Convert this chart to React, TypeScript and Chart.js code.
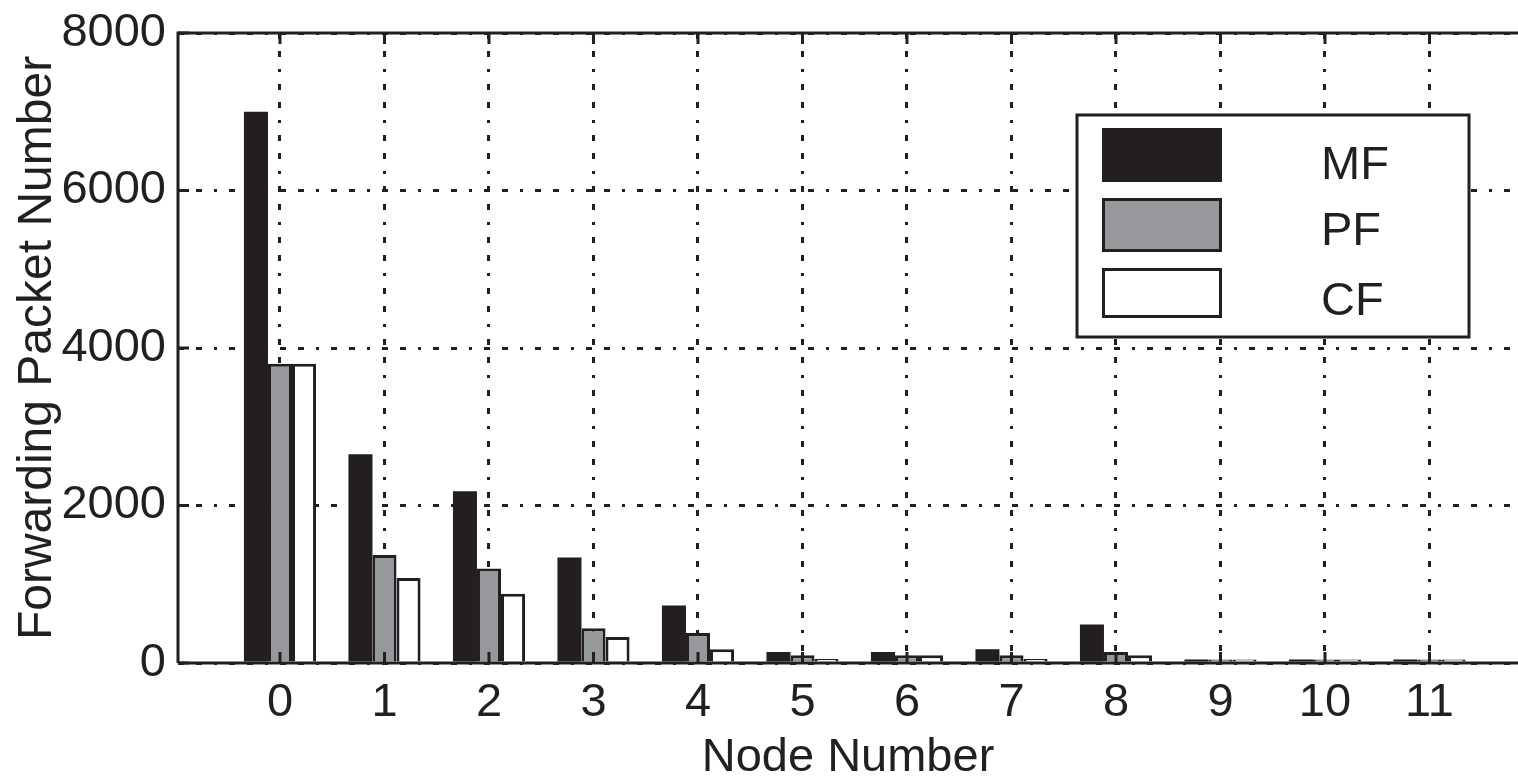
import React, { useEffect, useRef } from 'react';
import { Chart, registerables } from 'chart.js';

Chart.register(...registerables);

// ---- data ----
const nodes = [0, 1, 2, 3, 4, 5, 6, 7, 8, 9, 10, 11];
const mfValues = [7000, 2650, 2180, 1340, 730, 140, 140, 175, 490, 45, 45, 45];
const pfValues = [3800, 1370, 1200, 440, 380, 100, 100, 100, 140, 45, 45, 45];
const cfValues = [3800, 1080, 880, 330, 175, 50, 100, 50, 100, 45, 45, 45];
const seriesLabels = ['MF', 'PF', 'CF'];
const yTickValues = [0, 2000, 4000, 6000, 8000];
const xTitle = 'Node Number';
const yTitle = 'Forwarding Packet Number';

// ---- styles ----
const INK = '#231f20';
const GRAY = '#97989b';
const NARROW = '"Liberation Sans Narrow", "Arial Narrow", "Liberation Sans", Arial, sans-serif';
const REGULAR = '"Liberation Sans", Arial, sans-serif';
const GRID_DASH = [6, 12, 6, 12, 3, 12];

const framePlugin = {
  id: 'frame',
  afterDatasetsDraw(chart: any) {
    const { ctx, chartArea: a, scales } = chart;
    ctx.save();
    ctx.strokeStyle = INK;
    ctx.lineWidth = 3;
    ctx.setLineDash([]);
    ctx.beginPath();
    ctx.moveTo(a.left, a.bottom);
    ctx.lineTo(a.left, a.top);
    ctx.lineTo(a.right, a.top);
    ctx.moveTo(a.left, a.bottom);
    ctx.lineTo(a.right, a.bottom);
    ctx.stroke();
    ctx.beginPath();
    scales.x.ticks.forEach((t: any) => {
      const px = scales.x.getPixelForValue(t.value);
      ctx.moveTo(px, a.bottom);
      ctx.lineTo(px, a.bottom - 11);
      ctx.moveTo(px, a.top);
      ctx.lineTo(px, a.top + 11);
    });
    scales.y.ticks.forEach((t: any) => {
      const py = scales.y.getPixelForValue(t.value);
      ctx.moveTo(a.left, py);
      ctx.lineTo(a.left + 11, py);
    });
    ctx.stroke();
    ctx.restore();
  },
};

const legendPlugin = {
  id: 'boxLegend',
  afterDraw(chart: any) {
    const { ctx, chartArea: a } = chart;
    const boxL = a.left + 899;
    const boxT = a.top + 82;
    const boxW = 392;
    const boxH = 222;
    ctx.save();
    ctx.setLineDash([]);
    ctx.fillStyle = '#ffffff';
    ctx.fillRect(boxL, boxT, boxW, boxH);
    ctx.strokeStyle = INK;
    ctx.lineWidth = 3;
    ctx.strokeRect(boxL, boxT, boxW, boxH);
    const swatchTops = [13, 83, 153];
    const swatchH = [54, 54, 50];
    const baselines = [64, 130, 200];
    chart.data.datasets.forEach((ds: any, i: number) => {
      const x = boxL + 25;
      const y = boxT + swatchTops[i];
      const w = 120;
      const h = swatchH[i];
      ctx.fillStyle = ds.backgroundColor;
      ctx.fillRect(x, y, w, h);
      if (ds.borderWidth > 0) {
        ctx.lineWidth = 3;
        ctx.strokeStyle = INK;
        ctx.strokeRect(x + 1.5, y + 1.5, w - 3, h - 3);
      }
      ctx.fillStyle = INK;
      ctx.font = `47px ${NARROW}`;
      ctx.textAlign = 'left';
      ctx.textBaseline = 'alphabetic';
      ctx.fillText(ds.label, boxL + 244, boxT + baselines[i]);
    });
    ctx.restore();
  },
};

export default function App() {
  const ref = useRef<HTMLCanvasElement>(null);

  useEffect(() => {
    document.body.style.margin = '0';
    const mk = (vals: number[]) => nodes.map((n, i) => ({ x: n, y: vals[i] }));
    const chart = new Chart(ref.current as HTMLCanvasElement, {
      type: 'bar',
      data: {
        datasets: [
          { label: seriesLabels[0], data: mk(mfValues), backgroundColor: INK, borderColor: INK, borderWidth: 0 },
          { label: seriesLabels[1], data: mk(pfValues), backgroundColor: GRAY, borderColor: INK, borderWidth: 3 },
          { label: seriesLabels[2], data: mk(cfValues), backgroundColor: '#ffffff', borderColor: INK, borderWidth: 3 },
        ] as any,
      },
      options: {
        responsive: false,
        animation: false,
        devicePixelRatio: 1,
        layout: { padding: { top: 33, left: 0, right: 0, bottom: 0 } },
        datasets: { bar: { categoryPercentage: 0.69, barPercentage: 1, borderSkipped: 'start' } } as any,
        plugins: { legend: { display: false }, tooltip: { enabled: false } },
        scales: {
          x: {
            type: 'linear',
            offset: false,
            min: -0.976,
            max: 11.847,
            afterFit: (s: any) => { s.height = 117; s.paddingLeft = 0; s.paddingRight = 0; },
            ticks: {
              stepSize: 1,
              includeBounds: false,
              autoSkip: false,
              maxRotation: 0,
              padding: 12,
              color: INK,
              font: { family: NARROW, size: 47 },
              callback: (v: any) => String(v),
            },
            grid: { color: INK, lineWidth: 3, drawTicks: false, offset: false },
            border: { display: false, dash: GRID_DASH },
            title: {
              display: true,
              text: xTitle,
              color: INK,
              font: { family: NARROW, size: 47, lineHeight: 1 },
              padding: { top: 0, bottom: -2 },
            },
          } as any,
          y: {
            min: 0,
            max: 8000,
            afterFit: (s: any) => { s.width = 178; s.paddingTop = 0; s.paddingBottom = 0; },
            afterBuildTicks: (s: any) => { s.ticks = yTickValues.map((v) => ({ value: v })); },
            ticks: {
              stepSize: 2000,
              padding: 12,
              color: INK,
              font: { family: NARROW, size: 47 },
              callback: (v: any) => String(v),
            },
            grid: { color: INK, lineWidth: 3, drawTicks: false },
            border: { display: false, dash: GRID_DASH },
            title: {
              display: true,
              text: yTitle,
              color: INK,
              font: { family: REGULAR, size: 48 },
              padding: { top: 9, bottom: 0 },
            },
          } as any,
        },
      },
      plugins: [framePlugin, legendPlugin],
    });
    return () => chart.destroy();
  }, []);

  return (
    <div style={{ width: 1518, height: 780, overflow: 'hidden', background: '#ffffff' }}>
      <canvas ref={ref} width={1518} height={780} style={{ display: 'block' }} />
    </div>
  );
}
